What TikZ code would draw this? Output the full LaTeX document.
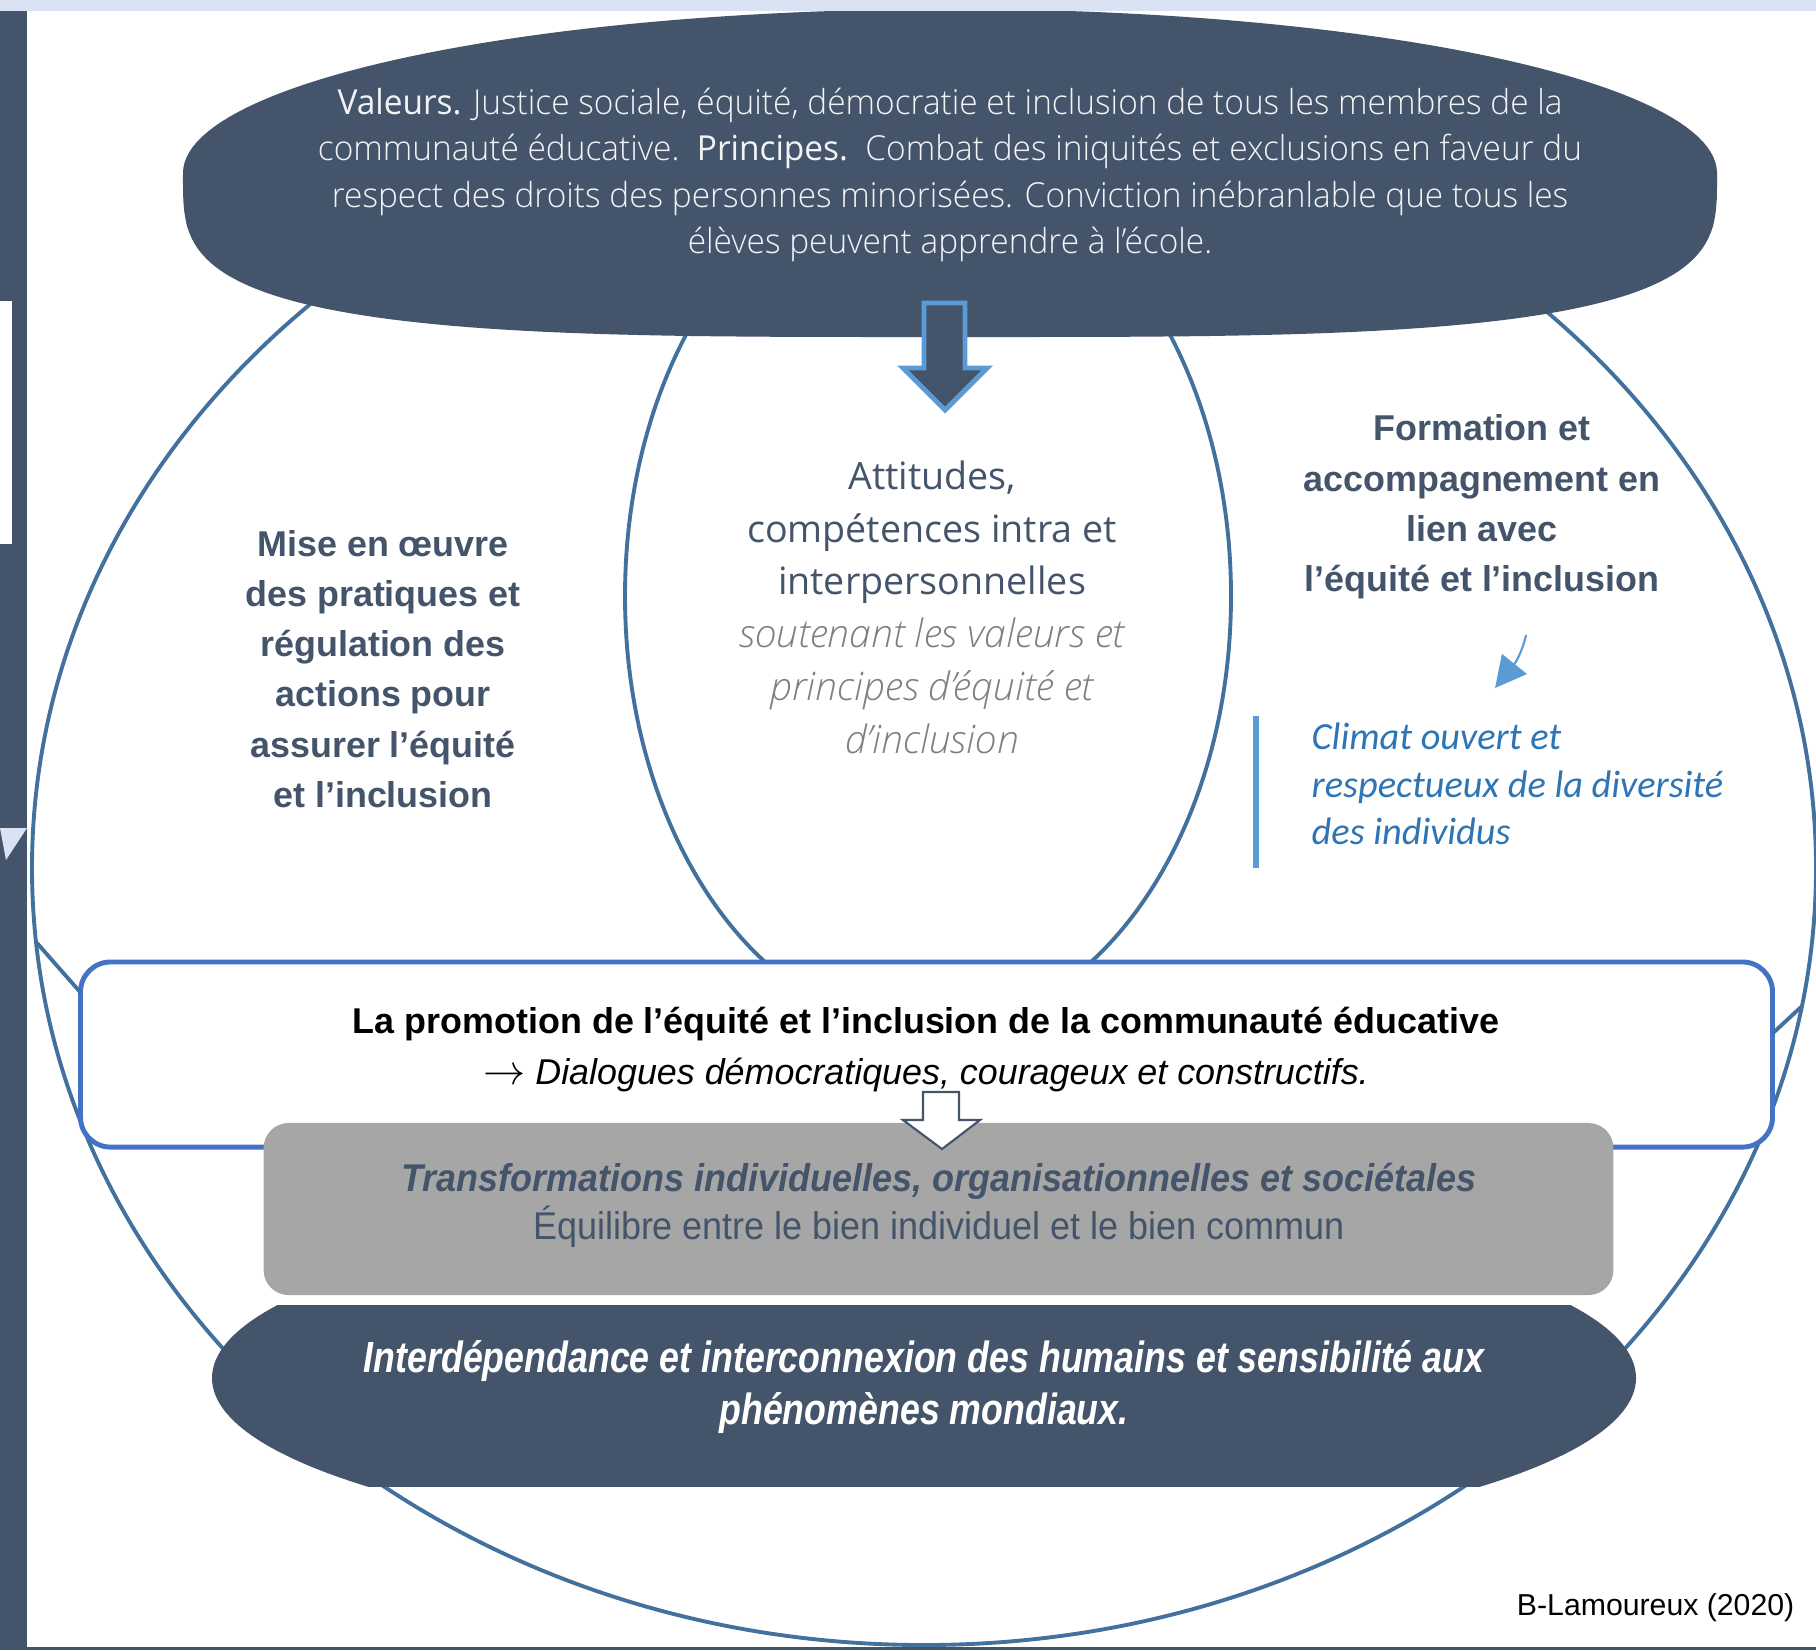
\documentclass[tikz,border=0pt]{standalone}
\usepackage{fontspec}
\usetikzlibrary{arrows.meta}
\setmainfont{Liberation Sans}
\IfFontExistsTF{Open Sans Light}
  {\newfontfamily\lightfont[FakeStretch=0.97]{Open Sans Light}
   \newfontfamily\semifont{Open Sans Light}}
  {\newfontfamily\lightfont[FakeStretch=0.97]{Open Sans}
   \newfontfamily\semifont{Open Sans}}
\newfontfamily\valfont[FakeStretch=0.97]{Open Sans}
\newfontfamily\opensans{Open Sans}
\newfontfamily\grayfont[FakeStretch=0.93]{Liberation Sans}
\newfontfamily\narrowfont[FakeStretch=0.82]{Liberation Sans}
\newfontfamily\carlito{Carlito}

\definecolor{slate}{HTML}{44546A}
\definecolor{ringblue}{HTML}{41719C}
\definecolor{boxblue}{HTML}{4472C4}
\definecolor{lightblue}{HTML}{5B9BD5}
\definecolor{climblue}{HTML}{2E75B6}
\definecolor{paleblue}{HTML}{DAE3F3}
\definecolor{midgray}{HTML}{A6A6A6}
\definecolor{softgray}{HTML}{7F7F7F}

\begin{document}
\begin{tikzpicture}[x=0.01cm, y=-0.01cm]

\tikzset{ring/.style = {draw=ringblue, line width=1.1pt}}
\tikzset{blockarrow/.style = {line width=1.4pt, line join=miter}}
\tikzset{promobox/.style = {draw=boxblue, fill=white, line width=1.4pt, rounded corners=3mm, minimum width=169.1mm, minimum height=18.5mm}}
\tikzset{graybox/.style = {fill=midgray, rounded corners=2.5mm, minimum width=134.9mm, minimum height=17.2mm}}
\tikzset{toptext/.style = {text=white!93!slate, align=center, inner sep=0pt, font=\lightfont\fontsize{9.8}{13.2}\selectfont}}
\tikzset{sidetext/.style = {text=slate, align=center, inner sep=0pt, font=\fontsize{10.2}{14.3}\selectfont\bfseries}}
\tikzset{midtext/.style = {text=slate, align=center, inner sep=0pt, font=\opensans\fontsize{10.7}{15}\selectfont}}
\tikzset{climtext/.style = {text=climblue, align=left, inner sep=0pt, font=\carlito\fontsize{10.9}{13.5}\selectfont\itshape}}
\tikzset{boxtext/.style = {text=black, align=center, inner sep=0pt, font=\fontsize{10.2}{14.5}\selectfont}}
\tikzset{graytext/.style = {text=slate, align=center, inner sep=0pt, font=\grayfont\fontsize{11}{13.7}\selectfont}}
\tikzset{bottomtext/.style = {text=white, align=center, inner sep=0pt, font=\narrowfont\fontsize{12.4}{14.6}\selectfont\bfseries\itshape}}

%frame
\path[use as bounding box, clip] (0,0) rectangle (1816,1650);
\fill[white] (0,0) rectangle (1816,1650);
\fill[slate] (0,11) rectangle (27,1650);
\fill[white] (0,301) rectangle (12,544);
\fill[paleblue] (0,828) -- (27,828) -- (6,860) -- cycle;
\fill[slate] (0,1647) rectangle (1816,1650);

%rings
\draw[ring] (924,868) ellipse [x radius=892, y radius=777];
\draw[ring] (928,596) ellipse [x radius=303, y radius=434];

%values
\fill[slate] plot[domain=0.5:179.5, samples=100, variable=\t] ({950+767*sign(cos(\t))*abs(cos(\t))^0.571}, {173+164*abs(sin(\t))^0.571})
  -- plot[domain=180:360, samples=100, variable=\t] ({950+767*cos(\t)}, {173+164*sin(\t)}) -- cycle;
\fill[paleblue] (0,0) rectangle (1816,11);
\filldraw[blockarrow, fill=slate, draw=lightblue] (924,303) -- (965,303) -- (965,368) -- (987,368) -- (945,410) -- (903,368) -- (924,368) -- cycle;

%boxes
\node[promobox] (promo) at (926.5,1054.5) {};
\coordinate (kinkL) at (37,943);
\coordinate (kinkLb) at (81,993);
\coordinate (kinkR) at (1801,1007);
\coordinate (kinkRb) at (1773,1033);
\draw[ring] (kinkL) -- (kinkLb);
\draw[ring] (kinkR) -- (kinkRb);
\node[graybox] (transfo) at (938.5,1209) {};
\filldraw[line width=0.6pt, line join=miter, fill=white, draw=slate] (923,1092) -- (959,1092) -- (959,1120) -- (980,1120) -- (942,1149) -- (903,1120) -- (923,1120) -- cycle;
\begin{scope}
\clip (0,1305) rectangle (1816,1486);
\fill[slate] (924,1378) ellipse [x radius=712, y radius=174];
\end{scope}

%climate
\draw[lightblue, line width=1.7pt] (1256,716) -- (1256,868);
\coordinate (climtop) at (1526,635);
\coordinate (climtip) at (1495,688);
\draw[lightblue, line width=0.6pt, -{Triangle[length=8.8pt, width=9pt]}] (climtop) .. controls (1522,652) and (1516,662) .. (climtip);

%texts
\node[toptext] (valtext) at (950,175) {{\valfont Valeurs.} Justice sociale, équité, démocratie et inclusion de tous les membres de la\\communauté éducative.\ \ {\valfont Principes.}\ \ Combat des iniquités et exclusions en faveur du\\respect des droits des personnes minorisées. Conviction inébranlable que tous les\\élèves peuvent apprendre à l’école.};
\node[sidetext] (miseoeuvre) at (383,669) {Mise en œuvre\\des pratiques et\\régulation des\\actions pour\\assurer l’équité\\et l’inclusion};
\node[midtext] (attitudes) at (932,607) {Attitudes,\\compétences intra et\\interpersonnelles\\{\semifont\fontsize{11.1}{15}\selectfont\color{softgray}\itshape soutenant les valeurs et}\\{\semifont\fontsize{11.1}{15}\selectfont\color{softgray}\itshape principes d’équité et}\\{\semifont\fontsize{11.1}{15}\selectfont\color{softgray}\itshape d’inclusion}};
\node[sidetext] (formation) at (1482,507) {Formation et\\accompagnement en\\lien avec\\l’équité et l’inclusion};
\node[climtext, anchor=west] (climat) at (1311,784) {Climat ouvert et\\respectueux de la diversité\\des individus};
\node[boxtext] (promotext) at (926,1050) {{\bfseries La promotion de l’équité et l’inclusion de la communauté éducative}\\{{\fontsize{12.5}{14}\selectfont$\rightarrow$} \itshape Dialogues démocratiques, courageux et constructifs.}};
\node[graytext] (transfotext) at (939,1205) {{\bfseries\itshape Transformations individuelles, organisationnelles et sociétales}\\Équilibre entre le bien individuel et le bien commun};
\node[bottomtext] (interdep) at (924,1387) {Interdépendance et interconnexion des humains et sensibilité aux\\phénomènes mondiaux.};
\node[anchor=base east, inner sep=0pt, font=\fontsize{8.6}{10}\selectfont] (credit) at (1795,1615) {B-Lamoureux (2020)};

\end{tikzpicture}
\end{document}
